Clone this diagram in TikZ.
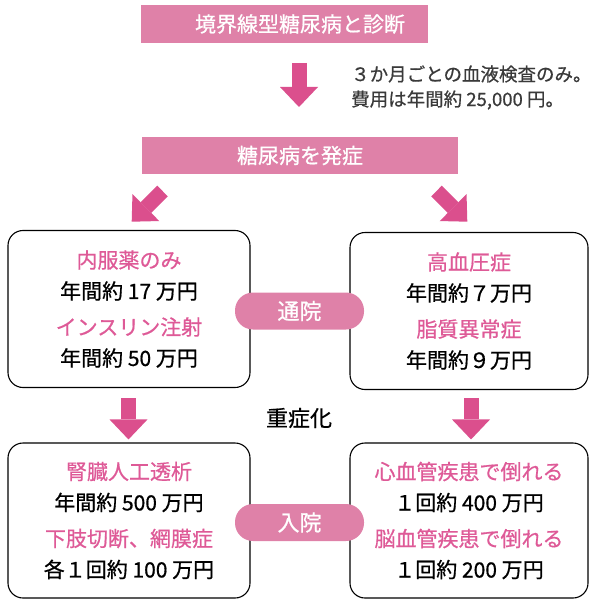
\documentclass[tikz,border=0pt]{standalone}
\usepackage{fontspec}
\setmainfont{Noto Sans CJK JP}[FakeBold=0.7]
\usepackage{tikz}
\usetikzlibrary{arrows.meta,positioning}

\definecolor{bandpink}{HTML}{DF81A8}
\definecolor{arrowpink}{HTML}{DB4F8D}
\definecolor{textpink}{HTML}{DE5A97}
\definecolor{notegray}{HTML}{3A3A3A}

\begin{document}
\begin{tikzpicture}[x=1pt,y=-1pt,>={Triangle[width=38pt,length=20pt,line width=0pt]}]
    \tikzstyle{band}=[fill=bandpink,text=white,inner sep=0pt,font=\fontsize{21}{21}\selectfont]
    \tikzstyle{costbox}=[draw=black,line width=1.1pt,rounded corners=15pt,minimum height=157pt,align=center,font=\fontsize{21}{31}\selectfont]
    \tikzstyle{visit}=[fill=bandpink,text=white,rounded corners=18pt,minimum width=129pt,minimum height=37pt,inner sep=0pt,font=\fontsize{22}{22}\selectfont]
    \tikzstyle{blockarrow}=[->,draw=arrowpink,fill=arrowpink,line width=15pt]
    \useasboundingbox (0,0) rectangle (590,599);

    % banners
    \node[band,minimum width=287pt,minimum height=38pt] (border) at (284,24) {\hspace*{32pt}境界線型糖尿病と診断};
    \node[band,minimum width=316pt,minimum height=37pt] (onset)  at (300,155.5) {糖尿病を発症};
    \node[anchor=west,align=left,inner sep=0pt,text=notegray,font=\fontsize{18.5}{25}\selectfont] (note) at (351,87.5)
        {３か月ごとの血液検査のみ。\\費用は年間約 25,000 円。};

    % costs
    \node[costbox,minimum width=242pt] (oral) at (129,309)
        {\textcolor{textpink}{内服薬のみ}\\年間約 17 万円\\[5pt]\textcolor{textpink}{インスリン注射}\\年間約 50 万円};
    \node[costbox,minimum width=238pt] (lipid) at (469,311)
        {\textcolor{textpink}{高血圧症}\\年間約７万円\\[5pt]\textcolor{textpink}{脂質異常症}\\年間約９万円};
    \node[costbox,minimum width=242pt,minimum height=155pt] (dialysis) at (129,520.5)
        {\textcolor{textpink}{腎臓人工透析}\\年間約 500 万円\\[5pt]\textcolor{textpink}{下肢切断、網膜症}\\各１回約 100 万円};
    \node[costbox,minimum width=238pt,minimum height=155pt] (stroke) at (469,520.5)
        {\textcolor{textpink}{心血管疾患で倒れる}\\１回約 400 万円\\[5pt]\textcolor{textpink}{脳血管疾患で倒れる}\\１回約 200 万円};

    \node[visit] (outpatient) at (299.5,311) {通院};
    \node[visit] (inpatient)  at (299.5,522.5) {入院};
    \node[font=\fontsize{22}{22}\selectfont] (worse) at (299,418) {重症化};

    % arrows
    \coordinate (b1) at (299,63);
    \coordinate (b2) at (299,107);
    \coordinate (l1) at (162.5,191);
    \coordinate (l2) at (131.7,221.7);
    \coordinate (r1) at (436.5,191);
    \coordinate (r2) at (467.3,221.7);
    \coordinate[below=10pt of oral,xshift=-0.5pt] (o1);
    \coordinate[above=3pt of dialysis,xshift=-0.5pt] (o2);
    \coordinate[below=8pt of lipid,xshift=2pt] (p1);
    \coordinate[above=3pt of stroke,xshift=2pt] (p2);
    \draw[blockarrow] (b1) -- (b2);
    \draw[blockarrow] (l1) -- (l2);
    \draw[blockarrow] (r1) -- (r2);
    \draw[blockarrow] (o1) -- (o2);
    \draw[blockarrow] (p1) -- (p2);
\end{tikzpicture}
\end{document}
